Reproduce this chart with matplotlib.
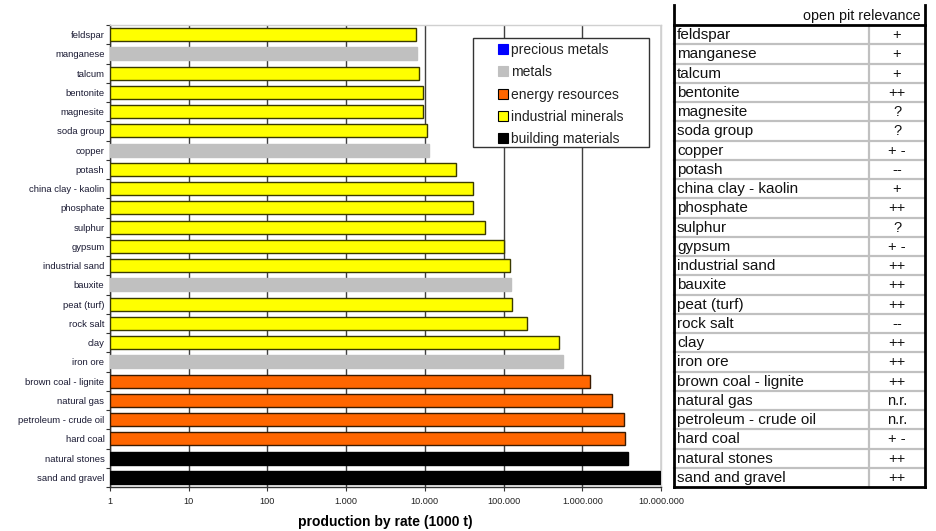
import matplotlib
matplotlib.use("Agg")
import matplotlib.pyplot as plt
from matplotlib.lines import Line2D
from matplotlib.patches import Rectangle
import numpy as np

plt.rcParams['font.family'] = ['Liberation Sans', 'DejaVu Sans']

# ---------------- data ----------------
categories = ["feldspar", "manganese", "talcum", "bentonite", "magnesite", "soda group",
              "copper", "potash", "china clay - kaolin", "phosphate", "sulphur", "gypsum",
              "industrial sand", "bauxite", "peat (turf)", "rock salt", "clay", "iron ore",
              "brown coal - lignite", "natural gas", "petroleum - crude oil", "hard coal",
              "natural stones", "sand and gravel"]
production = [7700, 8000, 8500, 9400, 9600, 10700, 11300, 24700, 40600, 41400, 58200,
              101000, 121000, 126000, 129000, 201000, 513000, 570000, 1260000, 2370000,
              3400000, 3470000, 3850000, 9800000]
groups = ["industrial minerals", "metals", "industrial minerals", "industrial minerals",
          "industrial minerals", "industrial minerals", "metals", "industrial minerals",
          "industrial minerals", "industrial minerals", "industrial minerals",
          "industrial minerals", "industrial minerals", "metals", "industrial minerals",
          "industrial minerals", "industrial minerals", "metals", "energy resources",
          "energy resources", "energy resources", "energy resources", "building materials",
          "building materials"]
relevance = ["+", "+", "+", "++", "?", "?", "+ -", "--", "+", "++", "?", "+ -", "++", "++",
             "++", "--", "++", "++", "++", "n.r.", "n.r.", "+ -", "++", "++"]
legend_groups = ["precious metals", "metals", "energy resources", "industrial minerals",
                 "building materials"]
xtick_values = [1, 10, 100, 1000, 10000, 100000, 1000000, 10000000]
xtick_labels = ["1", "10", "100", "1.000", "10.000", "100.000", "1.000.000", "10.000.000"]
table_header = "open pit relevance"
xlabel = "production by rate (1000 t)"

# ---------------- styles ----------------
fill = {"precious metals": "#0000FF", "metals": "#C0C0C0", "energy resources": "#FF6600",
        "industrial minerals": "#FFFF00", "building materials": "#000000"}
edge = {"precious metals": "#0000FF", "metals": "#C0C0C0", "energy resources": "#3a1a00",
        "industrial minerals": "#3a3a00", "building materials": "#000000"}

W, H = 936, 531
fig = plt.figure(figsize=(W / 100, H / 100), dpi=100)

ax_l, ax_r, ax_t, ax_b = 110, 661, 25, 487
ax = fig.add_axes([ax_l / W, 1 - ax_b / H, (ax_r - ax_l) / W, (ax_b - ax_t) / H])

n = len(categories)
y = np.arange(n)
ax.barh(y, production, height=0.68, left=1,
        color=[fill[g] for g in groups], edgecolor=[edge[g] for g in groups],
        linewidth=1.0, zorder=3)
ax.set_xscale("log")
ax.set_xlim(1, 10000000)
ax.set_ylim(n - 0.5, -0.5)

ax.set_xticks(xtick_values)
ax.set_xticklabels(xtick_labels, fontsize=6.6, color="#222222")
ax.xaxis.set_minor_locator(matplotlib.ticker.NullLocator())
ax.tick_params(axis="x", length=3, width=0.8, color="#333333", pad=4)

ax.set_yticks(np.arange(n + 1) - 0.5)
ax.set_yticklabels([])
ax.set_yticks(y, minor=True)
ax.set_yticklabels(categories, minor=True, fontsize=6.8, color="#1a1a33")
ax.tick_params(axis="y", which="major", length=3, width=0.8, color="#333333")
ax.tick_params(axis="y", which="minor", length=0, pad=4)

ax.grid(axis="x", which="major", color="#404040", linewidth=1.0, zorder=0)
ax.set_axisbelow(True)

for s in ["left", "bottom"]:
    ax.spines[s].set_color("#333333")
    ax.spines[s].set_linewidth(1.0)
for s in ["top", "right"]:
    ax.spines[s].set_color("#d0d0d0")
    ax.spines[s].set_linewidth(1.0)

ax.set_xlabel(xlabel, fontsize=10, fontweight="bold", labelpad=7)

handles = []
for g in legend_groups:
    mec = "#000000" if g in ("energy resources", "industrial minerals", "building materials") else fill[g]
    handles.append(Line2D([], [], linestyle="none", marker="s", markersize=7.2,
                          markerfacecolor=fill[g], markeredgecolor=mec, markeredgewidth=0.8))
leg = fig.legend(handles, legend_groups, loc="upper left",
                 bbox_to_anchor=(496 / W, 1 - 43 / H), borderaxespad=0, borderpad=0,
                 fontsize=10, frameon=False, handlelength=1.0,
                 handletextpad=0.08, labelspacing=0.60)
for t in leg.get_texts():
    t.set_color("#222222")
fig.patches.append(Rectangle((473 / W, 1 - 147 / H), (649 - 473) / W, (147 - 38) / H,
                             transform=fig.transFigure, facecolor="white",
                             edgecolor="#333333", linewidth=1.0, zorder=0.5))
leg.set_zorder(5)

# ---------------- table ----------------
tab = fig.add_axes([0, 0, 1, 1])
tab.set_xlim(0, W)
tab.set_ylim(H, 0)
tab.axis("off")
tl, tr, tdiv = 674, 925, 869
row_h = (ax_b - ax_t) / n
top_hdr = 5
for i in range(n):
    yc = ax_t + (i + 0.5) * row_h + 0.5
    tab.text(tl + 3, yc, categories[i], fontsize=11, va="center", ha="left", color="#111111")
    tab.text((tdiv + tr) / 2, yc, relevance[i], fontsize=10.5, va="center", ha="center",
             color="#111111")
    if i > 0:
        yb = ax_t + i * row_h
        tab.plot([tl, tr], [yb, yb], color="#c0c0c0", linewidth=1.6, zorder=1)
tab.text(tr - 4, (top_hdr + ax_t) / 2 + 1, table_header, fontsize=10.3, va="center", ha="right",
         color="#111111")
tab.plot([tdiv, tdiv], [ax_t, ax_b], color="#c0c0c0", linewidth=1.6, zorder=1)
tab.plot([tl, tr], [ax_t, ax_t], color="#000000", linewidth=2.0, zorder=2)
tab.plot([tl, tr], [ax_b, ax_b], color="#000000", linewidth=2.0, zorder=2)
tab.plot([tl, tl], [top_hdr, ax_b], color="#000000", linewidth=2.0, zorder=2)
tab.plot([tr, tr], [top_hdr, ax_b], color="#000000", linewidth=2.0, zorder=2)

fig.savefig("out.png", dpi=100)
